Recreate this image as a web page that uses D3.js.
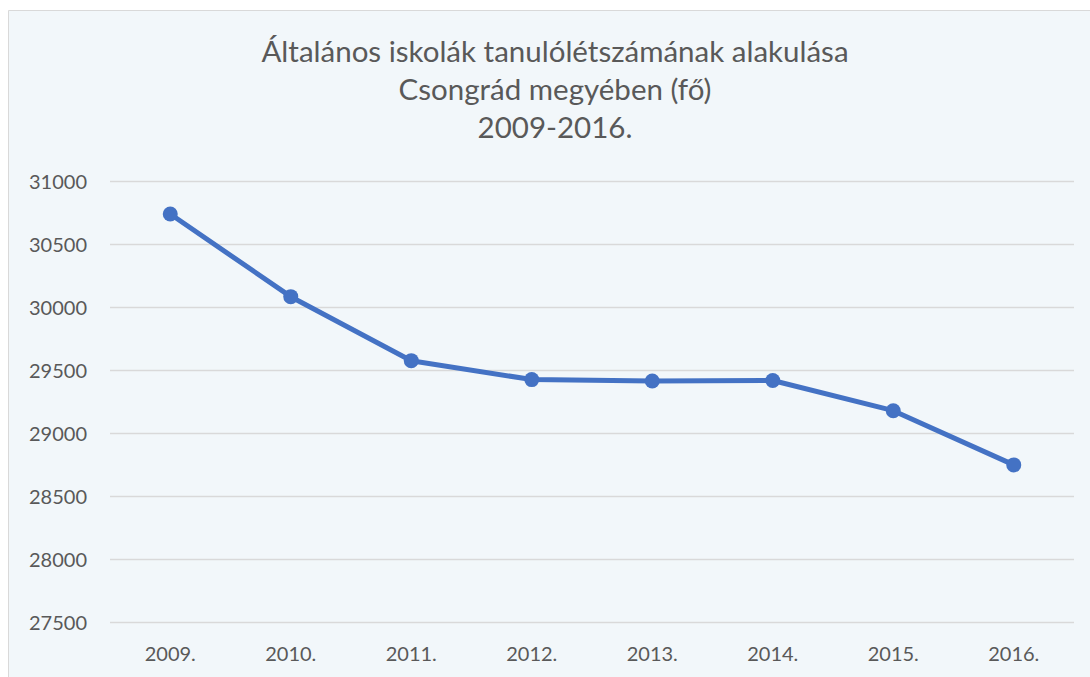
<!DOCTYPE html>
<html>
<head>
<meta charset="utf-8">
<script src="https://cdn.jsdelivr.net/npm/d3@7"></script>
<style>
  html, body { margin: 0; padding: 0; background: #ffffff; }
  svg { display: block; font-family: Lato, "Open Sans", sans-serif; }
</style>
</head>
<body>
<svg id="chart" width="1090" height="677"></svg>
<script>
const years = ['2009.', '2010.', '2011.', '2012.', '2013.', '2014.', '2015.', '2016.'];
const students = [30738, 30082, 29574, 29424, 29413, 29417, 29177, 28747];
const yTicks = [27500, 28000, 28500, 29000, 29500, 30000, 30500, 31000];
const titleLines = ['Általános iskolák tanulólétszámának alakulása', 'Csongrád megyében (fő)', '2009-2016.'];

const svg = d3.select('#chart');
const width = 1090;
const height = 677;
const margin = { top: 181, right: 16, bottom: 55, left: 110 };
const innerWidth = width - margin.left - margin.right;
const innerHeight = height - margin.top - margin.bottom;

// chart area background, frame runs off the right and bottom edges
svg.append('rect')
  .attr('x', 9)
  .attr('y', 11)
  .attr('width', width - 9)
  .attr('height', height - 11)
  .attr('fill', '#f2f7fa');
svg.append('path')
  .attr('d', 'M8.5,' + height + 'V10.5H' + width)
  .attr('fill', 'none')
  .attr('stroke', '#d9d9d9')
  .attr('stroke-width', 1);

svg.append('text')
  .attr('x', 555)
  .attr('y', 62)
  .attr('text-anchor', 'middle')
  .attr('fill', '#595959')
  .style('font-size', '29.5px')
  .selectAll('tspan')
  .data(titleLines)
  .enter()
  .append('tspan')
  .attr('x', 555)
  .attr('dy', (d, i) => (i === 0 ? 0 : 38))
  .text((d) => d);

const xScale = d3.scaleBand().domain(years).range([0, innerWidth]);
const yScale = d3.scaleLinear().domain([27500, 31000]).range([innerHeight, 0]);

const grp = svg.append('g')
  .attr('transform', 'translate(' + margin.left + ',' + margin.top + ')');

// gridlines + y labels
const yAxis = grp.append('g')
  .call(d3.axisLeft(yScale).tickValues(yTicks).tickSize(-innerWidth).tickPadding(23).tickFormat(d3.format('d')));
yAxis.select('.domain').remove();
yAxis.selectAll('line').attr('stroke', '#d9d9d9').attr('stroke-width', 1.3);
yAxis.selectAll('text')
  .attr('fill', '#595959')
  .attr('dy', '0.35em')
  .style('font-size', '20px')
  .style('font-family', 'Lato, "Open Sans", sans-serif');

const xAxis = grp.append('g')
  .attr('transform', 'translate(0,' + innerHeight + ')')
  .call(d3.axisBottom(xScale).tickSize(0).tickPadding(25));
xAxis.select('.domain').remove();
xAxis.selectAll('text')
  .attr('fill', '#595959')
  .style('font-size', '20px')
  .style('font-family', 'Lato, "Open Sans", sans-serif');

const cx = (d, i) => xScale(years[i]) + xScale.bandwidth() / 2;

const line = d3.line()
  .x((d, i) => cx(d, i))
  .y((d) => yScale(d));

grp.append('path')
  .datum(students)
  .attr('fill', 'none')
  .attr('stroke', '#4472c4')
  .attr('stroke-width', 5)
  .attr('stroke-linejoin', 'round')
  .attr('d', line);

grp.selectAll('.dot')
  .data(students)
  .enter()
  .append('circle')
  .attr('class', 'dot')
  .attr('cx', cx)
  .attr('cy', (d) => yScale(d))
  .attr('r', 7.5)
  .attr('fill', '#4472c4');
</script>
</body>
</html>
